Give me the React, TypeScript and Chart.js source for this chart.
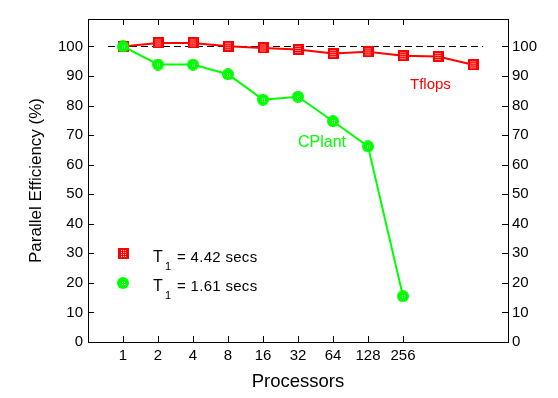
import { useEffect, useRef } from 'react';
import { Chart, registerables } from 'chart.js';

Chart.register(...registerables);

// ---------- data ----------
const processorLabels = ['1', '2', '4', '8', '16', '32', '64', '128', '256'];
const tflopsEfficiency = [100, 101.2, 101.2, 100.1, 99.5, 99.0, 97.6, 98.2, 96.9, 96.6, 93.8];
const cplantEfficiency = [100, 93.9, 93.9, 90.6, 82.0, 83.0, 74.7, 66.2, 15.5];
const yTickValues = [0, 10, 20, 30, 40, 50, 60, 70, 80, 90, 100];
const idealEfficiency = 100;
const idealLineSpan = [0.57, 11.29];
const tflopsTime = '4.42 secs';
const cplantTime = '1.61 secs';
const seriesNames = ['Tflops', 'CPlant'];

// ---------- axis ranges / label anchors (data space) ----------
const X_MIN = 0;
const X_MAX = 12;
const Y_MIN = 0;
const Y_MAX = 109.3;
const tflopsLabelAt = { x: 9.2, y: 85.5 };
const cplantLabelAt = { x: 6.0, y: 66.0 };
const legendAnchors = [
  { x: 1, y: 30 },
  { x: 1, y: 20 },
];

const FONT = '"Liberation Sans", Arial, Helvetica, sans-serif';
const RED = '#ff0000';
const GREEN = '#00ff00';

function makeSquareMarker(): HTMLCanvasElement {
  const c = document.createElement('canvas');
  c.width = 11;
  c.height = 11;
  const g = c.getContext('2d')!;
  g.fillStyle = RED;
  g.fillRect(0, 0, 11, 11);
  g.fillStyle = '#ffffff';
  for (const dx of [3, 5, 7]) {
    for (const dy of [2, 4, 6, 8]) {
      g.fillRect(dx, dy, 1, 1);
    }
  }
  return c;
}

function makeCircleMarker(): HTMLCanvasElement {
  const c = document.createElement('canvas');
  c.width = 12;
  c.height = 12;
  const g = c.getContext('2d')!;
  g.fillStyle = GREEN;
  g.beginPath();
  g.arc(6, 6, 6, 0, Math.PI * 2);
  g.fill();
  g.fillStyle = '#ffffff';
  for (const [dx, dy] of [[5, 5], [7, 5], [5, 7], [7, 7]]) {
    g.fillRect(dx, dy, 1, 1);
  }
  return c;
}

export default function App() {
  const canvasRef = useRef<HTMLCanvasElement | null>(null);

  useEffect(() => {
    const canvas = canvasRef.current;
    if (!canvas) return;
    const squareMarker = makeSquareMarker();
    const circleMarker = makeCircleMarker();

    const decorPlugin = {
      id: 'decor',
      afterDatasetsDraw(chart: any) {
        const ctx = chart.ctx as CanvasRenderingContext2D;
        const xs = chart.scales.x;
        const ys = chart.scales.y;
        const { left, right, top, bottom } = chart.chartArea;
        ctx.save();
        // inward tick marks
        ctx.strokeStyle = '#000';
        ctx.lineWidth = 1;
        ctx.beginPath();
        xs.ticks.forEach((t: any) => {
          const px = Math.round(xs.getPixelForValue(t.value)) + 0.5;
          ctx.moveTo(px, bottom);
          ctx.lineTo(px, bottom - 6);
          ctx.moveTo(px, top);
          ctx.lineTo(px, top + 6);
        });
        ys.ticks.forEach((t: any) => {
          const py = Math.round(ys.getPixelForValue(t.value)) + 0.5;
          ctx.moveTo(left, py);
          ctx.lineTo(left + 6, py);
          ctx.moveTo(right, py);
          ctx.lineTo(right - 6, py);
        });
        ctx.stroke();

        // series annotations
        ctx.textBaseline = 'alphabetic';
        ctx.textAlign = 'left';
        ctx.font = `15px ${FONT}`;
        ctx.fillStyle = RED;
        ctx.fillText(seriesNames[0], xs.getPixelForValue(tflopsLabelAt.x), ys.getPixelForValue(tflopsLabelAt.y));
        ctx.font = `16px ${FONT}`;
        ctx.fillStyle = GREEN;
        ctx.fillText(seriesNames[1], xs.getPixelForValue(cplantLabelAt.x), ys.getPixelForValue(cplantLabelAt.y));

        // key
        const entries = [
          { img: squareMarker, text: tflopsTime },
          { img: circleMarker, text: cplantTime },
        ];
        entries.forEach((e, i) => {
          const mx = xs.getPixelForValue(legendAnchors[i].x);
          const my = ys.getPixelForValue(legendAnchors[i].y);
          ctx.drawImage(e.img, Math.round(mx - e.img.width / 2), Math.round(my - e.img.height / 2));
          const base = my + 8.5;
          ctx.fillStyle = '#000';
          ctx.font = `16px ${FONT}`;
          ctx.fillText('T', mx + 30, base);
          ctx.font = `11px ${FONT}`;
          ctx.fillText('1', mx + 42, base + 8);
          ctx.font = `15px ${FONT}`;
          (ctx as any).letterSpacing = '0.3px';
          ctx.fillText('= ' + e.text, mx + 54, base);
          (ctx as any).letterSpacing = '0px';
        });
        ctx.restore();
      },
    };

    const tickFont = { family: FONT, size: 15 };

    const chart = new Chart(canvas, {
      type: 'line',
      data: {
        datasets: [
          {
            label: 'ideal',
            data: idealLineSpan.map((x) => ({ x, y: idealEfficiency })),
            borderColor: '#000000',
            borderWidth: 1,
            borderDash: [7, 4],
            pointRadius: 0,
            fill: false,
            order: 3,
          },
          {
            label: seriesNames[0],
            data: tflopsEfficiency.map((y, i) => ({ x: i + 1, y })),
            borderColor: RED,
            backgroundColor: RED,
            borderWidth: 2,
            pointStyle: squareMarker as any,
            pointRadius: 6,
            fill: false,
            order: 2,
          },
          {
            label: seriesNames[1],
            data: cplantEfficiency.map((y, i) => ({ x: i + 1, y })),
            borderColor: GREEN,
            backgroundColor: GREEN,
            borderWidth: 2,
            pointStyle: circleMarker as any,
            pointRadius: 6,
            fill: false,
            order: 1,
          },
        ],
      },
      options: {
        animation: false,
        responsive: true,
        maintainAspectRatio: false,
        layout: { padding: 0 },
        plugins: {
          legend: { display: false },
          tooltip: { enabled: false },
        },
        scales: {
          x: {
            type: 'linear',
            position: 'bottom',
            min: X_MIN,
            max: X_MAX,
            afterBuildTicks: (s: any) => {
              s.ticks = processorLabels.map((_, i) => ({ value: i + 1 }));
            },
            afterFit: (s: any) => {
              s.height = 56;
            },
            grid: { display: false, drawTicks: false },
            border: { display: true, color: '#000', width: 1 },
            ticks: {
              font: tickFont,
              color: '#000',
              padding: 5,
              maxRotation: 0,
              autoSkip: false,
              callback: (v: any) => processorLabels[Number(v) - 1] ?? '',
            },
            title: {
              display: true,
              text: 'Processors',
              color: '#000',
              font: { family: FONT, size: 18.5 },
              padding: { top: 0, bottom: 5 },
            },
          },
          x2: {
            type: 'linear',
            position: 'top',
            min: X_MIN,
            max: X_MAX,
            afterBuildTicks: (s: any) => {
              s.ticks = processorLabels.map((_, i) => ({ value: i + 1 }));
            },
            afterFit: (s: any) => {
              s.height = 19;
            },
            grid: { display: false, drawTicks: false },
            border: { display: true, color: '#000', width: 1 },
            ticks: { display: false },
          },
          y: {
            type: 'linear',
            position: 'left',
            min: Y_MIN,
            max: Y_MAX,
            afterBuildTicks: (s: any) => {
              s.ticks = yTickValues.map((value) => ({ value }));
            },
            afterFit: (s: any) => {
              s.width = 88;
            },
            grid: { display: false, drawTicks: false },
            border: { display: true, color: '#000', width: 1 },
            ticks: { font: tickFont, color: '#000', padding: 5 },
            title: {
              display: true,
              text: 'Parallel Efficiency (%)',
              color: '#000',
              font: { family: FONT, size: 17 },
              padding: { top: 26, bottom: 0 },
            },
          },
          y2: {
            type: 'linear',
            position: 'right',
            min: Y_MIN,
            max: Y_MAX,
            afterBuildTicks: (s: any) => {
              s.ticks = yTickValues.map((value) => ({ value }));
            },
            afterFit: (s: any) => {
              s.width = 50;
            },
            grid: { display: false, drawTicks: false },
            border: { display: true, color: '#000', width: 1 },
            ticks: { font: tickFont, color: '#000', padding: 4 },
          },
        },
      } as any,
      plugins: [decorPlugin],
    });

    return () => {
      chart.destroy();
    };
  }, []);

  return (
    <div style={{ position: 'absolute', left: 0, top: 0, width: 558, height: 398, background: '#fff' }}>
      <canvas ref={canvasRef} />
    </div>
  );
}
